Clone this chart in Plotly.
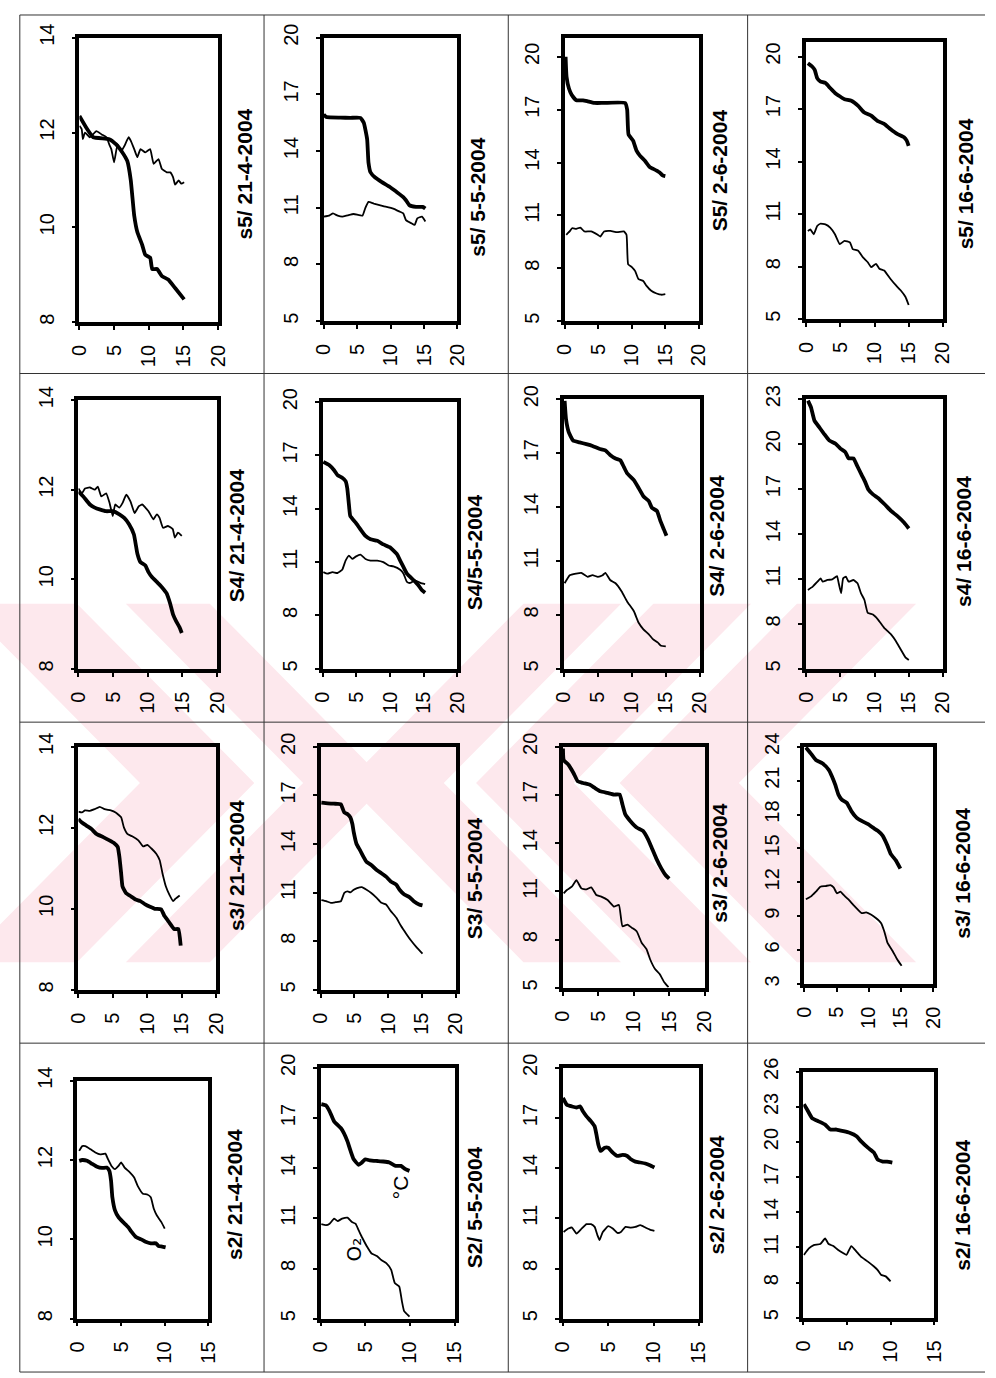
import plotly.graph_objects as go

W, H = 996, 1378
FONT = "Liberation Sans, Arial, sans-serif"

# ---------------- tick label lists ----------------
XT_20 = [0, 5, 10, 15, 20]
XT_15 = [0, 5, 10, 15]
YT_8_14 = [8, 10, 12, 14]
YT_5_20 = [5, 8, 11, 14, 17, 20]
YT_5_23 = [5, 8, 11, 14, 17, 20, 23]
YT_3_24 = [3, 6, 9, 12, 15, 18, 21, 24]
YT_5_26 = [5, 8, 11, 14, 17, 20, 23, 26]

# ---------------- panel titles ----------------
TITLES = [
    "s5/ 21-4-2004", "s5/ 5-5-2004", "S5/ 2-6-2004", "s5/ 16-6-2004",
    "S4/ 21-4-2004", "S4/5-5-2004", "S4/ 2-6-2004", "s4/ 16-6-2004",
    "s3/ 21-4-2004", "S3/ 5-5-2004", "s3/ 2-6-2004", "s3/ 16-6-2004",
    "s2/ 21-4-2004", "S2/ 5-5-2004", "s2/ 2-6-2004", "s2/ 16-6-2004",
]

# ---------------- data: depth (x) vs temperature (thick) / O2 (thin) ----------------
# s5 21-4-2004
s5_a_tx = [0, 1, 2, 4.3, 5.3, 6.2, 6.9, 7.4, 7.9, 8.35, 9.05, 9.5, 10.2, 10.5, 11.2, 11.9, 12.8, 13.8, 15.1]
s5_a_ty = [12.35, 12.1, 11.9, 11.86, 11.75, 11.58, 11.4, 11.0, 10.25, 9.9, 9.63, 9.42, 9.36, 9.12, 9.12, 8.97, 8.9, 8.72, 8.48]
s5_a_ox = [0, 0.33, 0.5, 0.8, 1.5, 2.45, 3.2, 3.9, 4.3, 4.6, 5.0, 5.5, 6.0, 6.5, 7.1, 7.4, 7.9, 8.35, 8.8, 9.5, 10.2, 10.7, 11.4, 11.9, 12.6, 13.1, 13.5, 13.8, 14.3, 14.7, 15.1]
s5_a_oy = [12.14, 12.07, 11.86, 12.0, 11.9, 12.03, 11.96, 11.9, 11.75, 11.65, 11.37, 11.75, 11.6, 11.72, 11.9, 11.83, 11.65, 11.48, 11.65, 11.58, 11.65, 11.34, 11.44, 11.23, 11.16, 11.16, 11.06, 10.9, 10.99, 10.92, 10.95]
# s5 5-5-2004
s5_b_tx = [0, 0.4, 2.5, 4.0, 5.5, 6.0, 6.5, 6.7, 7.0, 7.7, 8.7, 9.9, 10.9, 11.9, 12.3, 12.8, 13.8, 14.8, 15.2]
s5_b_ty = [15.94, 15.8, 15.77, 15.76, 15.76, 15.5, 14.63, 13.4, 12.88, 12.6, 12.36, 12.1, 11.84, 11.57, 11.4, 11.14, 11.05, 11.05, 10.96]
s5_b_ox = [0, 0.9, 1.4, 2.1, 2.8, 3.6, 4.5, 5.8, 6.2, 6.7, 7.5, 8.9, 10.4, 11.4, 11.9, 12.3, 13.1, 13.6, 14.0, 14.7, 15.2]
s5_b_oy = [10.53, 10.6, 10.7, 10.58, 10.53, 10.6, 10.67, 10.58, 10.96, 11.31, 11.22, 11.09, 10.96, 10.79, 10.7, 10.35, 10.18, 10.09, 10.44, 10.53, 10.27]
# S5 2-6-2004
s5_c_tx = [0.1, 0.24, 0.6, 1.0, 1.7, 2.7, 3.4, 4.4, 5.8, 9.0, 9.3, 9.5, 10.2, 10.7, 11.2, 11.95, 12.7, 13.2, 14.1, 14.6, 15.0]
s5_c_ty = [20.0, 18.87, 18.2, 17.85, 17.53, 17.53, 17.47, 17.38, 17.38, 17.38, 17.0, 15.6, 15.23, 14.67, 14.39, 14.1, 13.73, 13.64, 13.45, 13.27, 13.23]
s5_c_ox = [0.2, 0.7, 1.07, 1.7, 2.3, 2.9, 3.9, 4.9, 5.3, 5.85, 6.8, 7.8, 8.8, 9.2, 9.45, 10.0, 10.5, 11.0, 11.7, 12.2, 12.9, 13.7, 14.4, 15.0]
s5_c_oy = [9.9, 10.09, 10.27, 10.24, 10.31, 10.09, 10.09, 9.9, 9.8, 10.09, 10.12, 10.05, 10.09, 9.9, 8.22, 8.07, 7.84, 7.38, 7.28, 7.0, 6.72, 6.57, 6.5, 6.53]
# s5 16-6-2004
s5_d_tx = [0.24, 0.86, 1.24, 1.6, 2.05, 2.8, 3.5, 4.2, 4.9, 5.6, 6.6, 7.6, 8.5, 9.5, 10.4, 11.4, 12.3, 13.3, 14.3, 14.7, 14.98]
s5_d_ty = [19.62, 19.43, 19.24, 18.77, 18.58, 18.49, 18.2, 17.92, 17.73, 17.56, 17.47, 17.18, 16.8, 16.62, 16.33, 16.15, 15.86, 15.58, 15.39, 15.2, 14.9]
s5_d_ox = [0.24, 0.6, 1.1, 1.6, 2.05, 2.8, 3.5, 4.2, 4.9, 5.6, 6.4, 6.8, 7.6, 8.3, 9.0, 9.5, 10.2, 10.7, 11.4, 12.3, 13.1, 13.8, 14.5, 14.98]
s5_d_oy = [10.04, 10.13, 9.85, 10.32, 10.45, 10.41, 10.23, 9.85, 9.29, 9.47, 9.38, 9.0, 8.91, 8.53, 8.25, 7.97, 8.16, 7.88, 7.78, 7.31, 6.94, 6.65, 6.28, 5.81]

# S4 21-4-2004
s4_a_tx = [0, 0.7, 1.65, 2.35, 3.05, 4.0, 4.95, 5.9, 6.6, 7.3, 8.0, 8.5, 8.95, 9.65, 10.1, 10.6, 11.3, 12.0, 12.7, 13.2, 13.65, 14.1, 14.6, 14.9]
s4_a_ty = [11.96, 11.85, 11.67, 11.6, 11.56, 11.52, 11.52, 11.45, 11.37, 11.23, 11.0, 10.57, 10.38, 10.31, 10.16, 10.05, 9.94, 9.83, 9.69, 9.47, 9.21, 9.06, 8.92, 8.8]
s4_a_ox = [0, 0.5, 0.95, 1.65, 2.35, 2.8, 3.3, 4.0, 4.5, 4.95, 5.3, 5.9, 6.35, 6.9, 7.5, 8.1, 8.7, 9.2, 9.65, 10.1, 10.8, 11.3, 11.7, 12.2, 12.9, 13.6, 13.9, 14.35, 14.9]
s4_a_oy = [12.03, 11.92, 12.03, 12.05, 12.0, 12.07, 11.85, 11.92, 11.7, 11.41, 11.67, 11.6, 11.7, 11.89, 11.74, 11.48, 11.63, 11.67, 11.6, 11.52, 11.34, 11.45, 11.37, 11.15, 11.19, 11.12, 10.93, 11.04, 10.97]
# S4 5-5-2004
s4_b_tx = [0.1, 1.0, 1.7, 2.2, 2.9, 3.4, 3.65, 3.9, 4.1, 4.9, 5.6, 6.35, 7.1, 8.1, 9.0, 10.0, 11.0, 11.5, 12.0, 12.5, 13.5, 14.2, 14.7, 15.2]
s4_b_ty = [16.64, 16.45, 16.17, 15.9, 15.75, 15.56, 15.16, 14.23, 13.59, 13.22, 12.85, 12.48, 12.29, 12.2, 12.0, 11.83, 11.46, 11.09, 10.72, 10.35, 9.98, 9.7, 9.43, 9.28]
s4_b_ox = [0.1, 0.7, 1.45, 2.2, 2.9, 3.4, 3.9, 4.4, 4.9, 5.6, 6.35, 7.1, 8.1, 9.0, 9.8, 10.5, 11.5, 12.0, 12.5, 13.0, 13.7, 14.5, 15.2]
s4_b_oy = [10.44, 10.35, 10.44, 10.39, 10.57, 11.09, 11.37, 11.18, 11.31, 11.42, 11.18, 11.09, 11.09, 11.0, 10.81, 10.76, 10.57, 10.35, 9.89, 9.83, 9.98, 9.83, 9.76]
# S4 2-6-2004
s4_c_tx = [0.1, 0.3, 0.7, 1.35, 2.3, 3.3, 4.2, 5.2, 6.1, 6.8, 7.6, 8.3, 8.8, 9.3, 10.3, 11.0, 11.7, 12.5, 12.95, 13.7, 14.2, 14.7, 15.1]
s4_c_ty = [19.9, 18.9, 18.17, 17.7, 17.6, 17.5, 17.4, 17.24, 17.15, 16.9, 16.7, 16.6, 16.25, 15.88, 15.5, 15.06, 14.6, 14.33, 13.96, 13.78, 13.23, 12.77, 12.4]
s4_c_ox = [0.1, 0.85, 1.8, 2.55, 3.5, 4.2, 5.0, 5.7, 6.1, 6.8, 7.6, 8.5, 9.3, 10.3, 11.0, 11.7, 12.5, 13.1, 13.8, 14.3, 15.0]
s4_c_oy = [9.76, 10.21, 10.3, 10.34, 10.12, 10.21, 10.12, 10.21, 10.34, 9.94, 9.76, 9.3, 8.75, 8.2, 7.56, 7.2, 6.92, 6.65, 6.47, 6.28, 6.25]
# s4 16-6-2004
s4_d_tx = [0.25, 0.7, 1.2, 1.9, 2.6, 3.35, 4.3, 5.0, 5.7, 6.2, 6.9, 7.4, 8.1, 8.6, 9.1, 9.8, 10.5, 11.5, 12.4, 13.3, 14.3, 15.0]
s4_d_ty = [22.9, 22.45, 21.57, 21.13, 20.69, 20.25, 20.03, 19.7, 19.48, 19.05, 19.05, 18.6, 17.95, 17.5, 16.96, 16.63, 16.41, 15.97, 15.54, 15.21, 14.77, 14.37]
s4_d_ox = [0.25, 0.95, 1.65, 2.1, 2.4, 3.1, 3.8, 4.5, 4.75, 5.1, 5.4, 5.8, 6.2, 6.9, 7.5, 8.0, 8.5, 9.0, 9.75, 10.5, 11.4, 12.4, 13.1, 13.8, 14.5, 15.0]
s4_d_oy = [10.27, 10.49, 10.82, 11.04, 10.82, 10.93, 10.97, 11.19, 10.71, 10.05, 11.04, 11.15, 10.82, 10.93, 10.71, 10.05, 9.61, 8.73, 8.62, 8.29, 7.74, 7.3, 6.86, 6.31, 5.77, 5.59]

# s3 21-4-2004
s3_a_tx = [0, 0.5, 1.2, 1.9, 2.6, 3.6, 4.5, 5.2, 5.7, 5.95, 6.2, 6.4, 6.9, 7.6, 8.3, 9.0, 9.7, 10.4, 11.1, 12.0, 12.5, 13.2, 13.9, 14.5, 14.85]
s3_a_ty = [12.22, 12.13, 12.05, 11.97, 11.85, 11.77, 11.69, 11.62, 11.53, 11.28, 10.88, 10.55, 10.39, 10.31, 10.23, 10.19, 10.11, 10.05, 10.0, 9.99, 9.82, 9.66, 9.5, 9.5, 9.09]
s3_a_ox = [0, 0.5, 0.95, 1.65, 2.35, 3.1, 3.8, 4.7, 5.4, 6.2, 6.6, 7.1, 7.8, 8.7, 9.4, 10.0, 10.6, 11.3, 11.8, 12.2, 12.7, 13.2, 13.75, 14.1, 14.7]
s3_a_oy = [12.4, 12.38, 12.43, 12.42, 12.46, 12.52, 12.46, 12.43, 12.38, 12.26, 12.01, 11.85, 11.79, 11.69, 11.54, 11.58, 11.49, 11.36, 11.2, 10.88, 10.55, 10.35, 10.19, 10.25, 10.33]
# S3 5-5-2004
s3_b_tx = [0.1, 1.05, 2.0, 3.0, 3.2, 3.5, 4.0, 4.4, 4.7, 4.9, 5.3, 5.85, 6.35, 6.8, 7.5, 8.3, 9.0, 9.7, 10.4, 11.2, 11.7, 12.4, 13.1, 13.8, 14.6, 15.1]
s3_b_ty = [16.55, 16.51, 16.49, 16.45, 16.25, 15.95, 15.84, 15.64, 15.24, 14.73, 14.02, 13.61, 13.21, 12.9, 12.7, 12.4, 12.2, 11.99, 11.69, 11.49, 11.18, 10.88, 10.74, 10.47, 10.27, 10.21]
s3_b_ox = [0.1, 0.8, 1.5, 2.2, 3.0, 3.5, 4.0, 4.4, 4.9, 5.4, 6.1, 6.8, 7.5, 8.3, 9.0, 9.7, 10.4, 11.2, 11.9, 12.7, 13.4, 14.2, 15.1]
s3_b_oy = [10.53, 10.47, 10.37, 10.41, 10.47, 10.98, 11.08, 11.02, 11.18, 11.28, 11.34, 11.18, 10.98, 10.68, 10.37, 10.27, 9.86, 9.46, 8.95, 8.45, 8.04, 7.63, 7.23]
# s3 2-6-2004
s3_c_tx = [0, 0.1, 0.8, 1.5, 2.1, 2.85, 3.8, 4.5, 5.3, 6.3, 7.2, 8.0, 8.4, 8.8, 9.5, 10.4, 11.3, 12.0, 12.5, 13.2, 13.9, 14.5, 15.0]
s3_c_ty = [19.9, 19.18, 18.87, 18.36, 17.85, 17.75, 17.64, 17.44, 17.23, 17.13, 17.03, 17.03, 16.41, 15.8, 15.39, 14.98, 14.77, 14.26, 13.75, 13.03, 12.42, 12.01, 11.8]
s3_c_ox = [0.1, 0.55, 1.25, 1.9, 2.6, 3.3, 4.0, 4.7, 5.4, 6.3, 7.2, 7.9, 8.4, 9.1, 9.75, 10.4, 11.1, 11.8, 12.3, 13.0, 13.65, 14.3, 14.9]
s3_c_oy = [10.88, 11.09, 11.3, 11.7, 11.19, 11.13, 11.25, 10.78, 10.68, 10.47, 10.06, 10.16, 8.83, 8.93, 8.73, 8.52, 7.81, 7.4, 6.78, 6.17, 5.86, 5.35, 5.04]
# s3 16-6-2004
s3_d_tx = [0.25, 1.0, 1.8, 2.8, 3.8, 4.3, 4.8, 5.3, 5.8, 6.6, 7.3, 8.1, 8.9, 9.9, 10.6, 11.4, 12.15, 12.9, 13.4, 14.2, 14.9]
s3_d_ty = [23.94, 23.42, 22.83, 22.54, 21.96, 21.38, 20.65, 19.77, 19.33, 19.04, 18.31, 17.73, 17.44, 17.15, 16.86, 16.56, 16.13, 15.25, 14.52, 13.94, 13.21]
s3_d_ox = [0.25, 1.0, 1.8, 2.5, 3.3, 4.05, 4.55, 5.06, 5.6, 6.1, 6.8, 7.6, 8.35, 8.9, 9.6, 10.4, 11.1, 11.9, 12.4, 12.9, 13.7, 14.4, 15.1]
s3_d_oy = [10.5, 10.73, 11.17, 11.61, 11.67, 11.75, 11.55, 11.03, 11.17, 10.88, 10.5, 10.0, 9.56, 9.27, 9.33, 9.13, 8.84, 8.4, 7.67, 6.65, 5.92, 5.19, 4.6]

# s2 21-4-2004
s2_a_tx = [0.2, 0.55, 1.1, 1.7, 2.25, 2.8, 3.35, 3.65, 3.85, 4.0, 4.3, 4.7, 5.2, 5.8, 6.2, 6.7, 7.3, 7.8, 8.4, 9.0, 9.3, 9.7, 10.1]
s2_a_ty = [11.98, 12.0, 11.98, 11.9, 11.83, 11.8, 11.81, 11.73, 11.48, 11.06, 10.73, 10.56, 10.44, 10.31, 10.19, 10.06, 10.0, 9.94, 9.9, 9.9, 9.83, 9.82, 9.8]
s2_a_ox = [0.2, 0.55, 0.9, 1.5, 2.05, 2.6, 3.2, 3.5, 3.9, 4.3, 4.7, 5.0, 5.4, 6.0, 6.5, 6.9, 7.5, 8.0, 8.4, 8.75, 9.1, 9.6, 10.0]
s2_a_oy = [12.23, 12.35, 12.35, 12.27, 12.19, 12.14, 12.16, 12.02, 11.85, 11.77, 11.85, 11.94, 11.81, 11.69, 11.56, 11.35, 11.15, 11.13, 11.06, 10.77, 10.6, 10.44, 10.27]
# S2 5-5-2004
s2_b_tx = [0.07, 0.6, 1.0, 1.5, 2.25, 2.6, 3.0, 3.35, 3.7, 4.25, 4.6, 5.0, 5.5, 6.3, 7.0, 7.7, 8.4, 9.0, 9.5, 9.95]
s2_b_ty = [17.83, 17.75, 17.4, 16.8, 16.4, 16.1, 15.6, 15.03, 14.53, 14.2, 14.33, 14.53, 14.47, 14.43, 14.4, 14.34, 14.14, 14.14, 13.94, 13.84]
s2_b_ox = [0.07, 0.6, 1.0, 1.5, 1.9, 2.4, 3.0, 3.5, 3.9, 4.25, 4.6, 5.2, 5.7, 6.3, 6.8, 7.35, 7.9, 8.3, 8.8, 9.1, 9.35, 9.7, 9.95]
s2_b_oy = [10.65, 10.59, 10.68, 10.98, 10.84, 10.98, 11.04, 10.78, 10.68, 10.29, 9.9, 9.3, 8.9, 8.75, 8.51, 8.32, 7.92, 7.13, 6.93, 6.05, 5.45, 5.26, 5.12]
# s2 2-6-2004
s2_c_tx = [0.0, 0.43, 1.0, 1.5, 1.9, 2.2, 2.6, 3.1, 3.5, 3.7, 3.9, 4.15, 4.6, 5.0, 5.5, 6.0, 6.6, 7.1, 7.5, 8.0, 8.55, 9.1, 9.6, 10.1]
s2_c_ty = [18.2, 17.79, 17.69, 17.63, 17.69, 17.4, 17.1, 16.8, 16.5, 16.0, 15.42, 15.03, 15.22, 15.22, 14.93, 14.73, 14.79, 14.73, 14.53, 14.39, 14.34, 14.28, 14.18, 14.04]
s2_c_ox = [0.07, 0.6, 1.0, 1.5, 2.06, 2.6, 3.1, 3.5, 3.8, 4.04, 4.4, 5.0, 5.5, 6.0, 6.4, 6.9, 7.5, 8.0, 8.55, 9.1, 9.6, 10.1]
s2_c_oy = [10.19, 10.39, 10.45, 10.09, 10.39, 10.65, 10.65, 10.49, 10.0, 9.7, 10.19, 10.53, 10.39, 10.13, 10.19, 10.49, 10.45, 10.49, 10.59, 10.45, 10.33, 10.25]
# s2 16-6-2004
s2_d_tx = [0.07, 0.45, 1.0, 1.76, 2.5, 3.1, 3.8, 4.6, 5.3, 6.1, 6.6, 7.4, 8.1, 8.5, 9.1, 9.6, 10.2]
s2_d_ty = [23.24, 22.76, 22.05, 21.77, 21.49, 21.07, 21.07, 20.93, 20.79, 20.5, 20.08, 19.52, 19.1, 18.53, 18.33, 18.33, 18.25]
s2_d_ox = [0.07, 0.64, 1.2, 1.95, 2.5, 2.9, 3.45, 4.0, 4.6, 4.95, 5.5, 6.1, 6.6, 7.4, 8.1, 8.5, 8.9, 9.45, 10.0]
s2_d_oy = [10.36, 10.92, 11.2, 11.29, 11.77, 11.29, 11.12, 10.78, 10.5, 10.36, 11.12, 10.64, 10.22, 9.79, 9.37, 9.09, 8.67, 8.53, 8.1]

SERIES = [
    (s5_a_tx, s5_a_ty, s5_a_ox, s5_a_oy), (s5_b_tx, s5_b_ty, s5_b_ox, s5_b_oy),
    (s5_c_tx, s5_c_ty, s5_c_ox, s5_c_oy), (s5_d_tx, s5_d_ty, s5_d_ox, s5_d_oy),
    (s4_a_tx, s4_a_ty, s4_a_ox, s4_a_oy), (s4_b_tx, s4_b_ty, s4_b_ox, s4_b_oy),
    (s4_c_tx, s4_c_ty, s4_c_ox, s4_c_oy), (s4_d_tx, s4_d_ty, s4_d_ox, s4_d_oy),
    (s3_a_tx, s3_a_ty, s3_a_ox, s3_a_oy), (s3_b_tx, s3_b_ty, s3_b_ox, s3_b_oy),
    (s3_c_tx, s3_c_ty, s3_c_ox, s3_c_oy), (s3_d_tx, s3_d_ty, s3_d_ox, s3_d_oy),
    (s2_a_tx, s2_a_ty, s2_a_ox, s2_a_oy), (s2_b_tx, s2_b_ty, s2_b_ox, s2_b_oy),
    (s2_c_tx, s2_c_ty, s2_c_ox, s2_c_oy), (s2_d_tx, s2_d_ty, s2_d_ox, s2_d_oy),
]
Y_TICKS = [YT_8_14, YT_5_20, YT_5_20, YT_5_20,
           YT_8_14, YT_5_20, YT_5_20, YT_5_23,
           YT_8_14, YT_5_20, YT_5_20, YT_3_24,
           YT_8_14, YT_5_20, YT_5_20, YT_5_26]
Y_RANGES = [[8, 14], [5, 20], [5, 21.08], [5, 20.85],
            [8, 14], [5, 20], [5, 20], [5, 23],
            [8, 14], [5, 20], [5, 20], [3, 24],
            [8, 14], [5, 20], [5, 20], [5, 26]]
X_TICKS = [XT_20] * 12 + [XT_15] * 4

# ---------------- layout geometry (pixels) ----------------
BOXES = [  # x0, x1, y0, y1
    (69, 211, 24, 312), (319, 456, 24, 311), (566, 703, 24, 311), (813, 953, 28, 309),
    (68, 210, 391, 663), (318, 456, 393, 663), (565, 704, 390, 663), (813, 953, 390, 663),
    (68, 209, 742, 988), (316, 454, 742, 988), (564, 709, 742, 986), (811, 943, 742, 982),
    (67, 201, 1080, 1321), (316, 453, 1067, 1321), (564, 703, 1067, 1321), (810, 944, 1071, 1320),
]
TITLE_POS = [
    (237, 162), (477, 185), (724, 158), (976, 172),
    (230, 528), (473, 545), (721, 528), (974, 534),
    (230, 862), (473, 875), (724, 860), (973, 870),
    (227, 1195), (473, 1208), (721, 1196), (973, 1206),
]


def px(x):
    return x / W


def py(y):
    return 1 - y / H


fig = go.Figure()
layout = dict(
    width=W, height=H, margin=dict(l=0, r=0, t=0, b=0), autosize=False,
    paper_bgcolor="white", plot_bgcolor="rgba(0,0,0,0)",
    showlegend=False, font=dict(family=FONT, color="black"),
)

annotations = []
for k in range(16):
    i = k + 1
    xs = "" if i == 1 else str(i)
    tx, ty, ox, oy = SERIES[k]
    fig.add_trace(go.Scatter(x=tx, y=ty, mode="lines", xaxis="x" + xs, yaxis="y" + xs,
                             line=dict(color="black", width=3.8, shape="spline", smoothing=0.4),
                             hoverinfo="skip"))
    fig.add_trace(go.Scatter(x=ox, y=oy, mode="lines", xaxis="x" + xs, yaxis="y" + xs,
                             line=dict(color="black", width=1.8, shape="spline", smoothing=0.4),
                             hoverinfo="skip"))
    x0, x1, y0, y1 = BOXES[k]
    xt = X_TICKS[k]
    yt = Y_TICKS[k]
    common = dict(showline=True, mirror=True, linewidth=3.5, linecolor="black",
                  ticks="outside", ticklen=4, tickwidth=1.5, tickcolor="black",
                  showgrid=False, zeroline=False, fixedrange=True,
                  tickfont=dict(family=FONT, size=20, color="black"),
                  tickangle=-90, tickmode="array")
    layout["xaxis" + xs] = dict(common, domain=[px(x0), px(x1)], anchor="y" + xs,
                                range=[0, xt[-1]], tickvals=xt, ticktext=[str(v) for v in xt],
                                ticklabelstandoff=7)
    layout["yaxis" + xs] = dict(common, domain=[py(y1), py(y0)], anchor="x" + xs,
                                range=Y_RANGES[k], tickvals=yt, ticktext=[str(v) for v in yt],
                                ticklabelstandoff=10)
    tx_, ty_ = TITLE_POS[k]
    annotations.append(dict(xref="paper", yref="paper", x=px(tx_), y=py(ty_),
                            text="<b>" + TITLES[k] + "</b>", showarrow=False, textangle=-90,
                            font=dict(family=FONT, size=21, color="black"),
                            xanchor="center", yanchor="middle"))

# labels inside S2/ 5-5-2004 panel
annotations.append(dict(xref="x14", yref="y14", x=8.98, y=12.85, text="°C", showarrow=False,
                        textangle=-90, font=dict(family=FONT, size=21, color="black")))
annotations.append(dict(xref="x14", yref="y14", x=3.72, y=9.13, text="O₂", showarrow=False,
                        textangle=-90, font=dict(family="DejaVu Sans, sans-serif", size=20, color="black")))
layout["annotations"] = annotations

# ---------------- table grid + watermark ----------------
shapes = []
PINK = "#fde8ed"
T, B = 597, 960
M = (T + B) / 2
h = M - T


def poly(pts):
    return "M " + " L ".join(f"{px(a):.5f},{py(b):.5f}" for a, b in pts) + " Z"


for a, t in [(131, 117), (298, 86)]:  # '>' chevrons (apex on the right)
    pts = [(a - h, T), (a - h + t, T), (a + t, M), (a - h + t, B), (a - h, B), (a, M)]
    shapes.append(dict(type="path", xref="paper", yref="paper", path=poly(pts),
                       fillcolor=PINK, line=dict(width=0), layer="below"))
for a, t in [(342, 100), (475, 100), (622, 122)]:  # '<' chevrons (apex on the left)
    pts = [(a + h, T), (a + h + t, T), (a + t, M), (a + h + t, B), (a + h, B), (a, M)]
    shapes.append(dict(type="path", xref="paper", yref="paper", path=poly(pts),
                       fillcolor=PINK, line=dict(width=0), layer="below"))

GRID = "#333333"
for xv in [8, 258, 508, 753]:
    shapes.append(dict(type="line", xref="paper", yref="paper", x0=px(xv), x1=px(xv),
                       y0=py(1), y1=py(1375), line=dict(color=GRID, width=1)))
for yv in [1, 364, 717, 1042, 1375]:
    shapes.append(dict(type="line", xref="paper", yref="paper", x0=px(8), x1=1,
                       y0=py(yv), y1=py(yv), line=dict(color=GRID, width=1)))
layout["shapes"] = shapes

fig.update_layout(**layout)
fig.write_html(
    "out.html",
    config={"displayModeBar": False},
    post_script="document.body.style.margin='0';document.body.style.padding='0';"
                "document.documentElement.style.overflow='hidden';",
)
